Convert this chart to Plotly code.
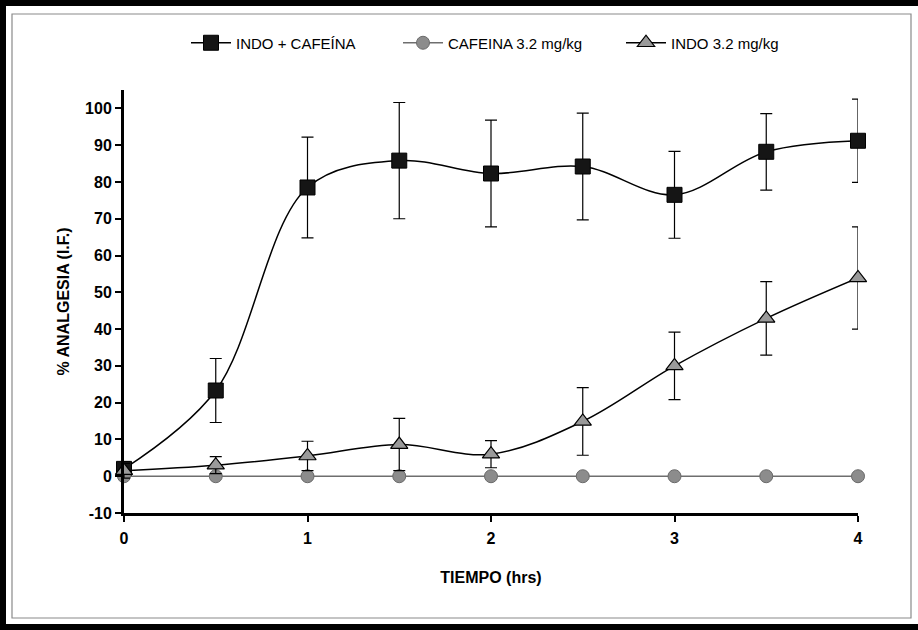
import plotly.graph_objects as go

# Time points (hours) and series values (% analgesia, mean ± error)
tiempo = [0, 0.5, 1, 1.5, 2, 2.5, 3, 3.5, 4]
indo_cafeina = [2.0, 23.3, 78.5, 85.8, 82.3, 84.2, 76.5, 88.2, 91.2]
indo_cafeina_err = [2.0, 8.7, 13.7, 15.8, 14.5, 14.5, 11.8, 10.4, 11.3]
cafeina = [0, 0, 0, 0, 0, 0, 0, 0, 0]
indo = [1.5, 3.0, 5.5, 8.6, 6.0, 14.9, 30.0, 42.9, 53.9]
indo_err = [2.0, 2.3, 4.0, 7.1, 3.7, 9.2, 9.2, 10.0, 13.9]

x_ticks = [0, 1, 2, 3, 4]
y_ticks = [-10, 0, 10, 20, 30, 40, 50, 60, 70, 80, 90, 100]

W, H = 918, 630
ML, MR, MT, MB = 124, 60, 90, 117
FONT = "Arial, Liberation Sans, sans-serif"


def px_x(px):
    return (px - ML) / (W - ML - MR)


def px_y(py):
    return (H - MB - py) / (H - MT - MB)


fig = go.Figure()

fig.add_trace(go.Scatter(
    x=tiempo, y=indo_cafeina, name="INDO + CAFEÍNA", legend="legend",
    mode="lines+markers", cliponaxis=False,
    line=dict(color="black", width=1.5, shape="spline", smoothing=1),
    marker=dict(symbol="square", size=15, color="#151515",
                line=dict(color="black", width=1)),
    error_y=dict(type="data", array=indo_cafeina_err, visible=True,
                 color="black", thickness=1.2, width=6),
))

fig.add_trace(go.Scatter(
    x=tiempo, y=cafeina, name="CAFEINA 3.2 mg/kg", legend="legend2",
    mode="lines+markers", cliponaxis=False,
    line=dict(color="#6e6e6e", width=1.5),
    marker=dict(symbol="circle", size=13, color="#8c8c8c",
                line=dict(color="#6a6a6a", width=1)),
))

fig.add_trace(go.Scatter(
    x=tiempo, y=indo, name="INDO 3.2 mg/kg", legend="legend3",
    mode="lines+markers", cliponaxis=False,
    line=dict(color="black", width=1.5, shape="spline", smoothing=1),
    marker=dict(symbol="triangle-up", size=15, color="#9a9a9a",
                line=dict(color="black", width=1.2)),
    error_y=dict(type="data", array=indo_err, visible=True,
                 color="black", thickness=1.2, width=6),
))

# Page frame: heavy border on top/left/bottom, thin inner border
frame = []
for x0, y0, x1, y1 in [(0, 0, W, 6), (0, 0, 6, H), (0, H - 6, W, H)]:
    frame.append(dict(type="rect", xref="paper", yref="paper",
                      x0=px_x(x0), x1=px_x(x1), y0=px_y(y0), y1=px_y(y1),
                      fillcolor="black", line=dict(width=0), layer="above"))
frame.append(dict(type="rect", xref="paper", yref="paper",
                  x0=px_x(12), x1=px_x(911), y0=px_y(14), y1=px_y(618),
                  fillcolor="rgba(0,0,0,0)",
                  line=dict(color="#8a8a8a", width=1.2), layer="below"))


def legend_at(px):
    return dict(orientation="h", x=px_x(px), xanchor="left",
                y=px_y(43), yanchor="middle",
                font=dict(size=15, family=FONT, color="black"),
                bgcolor="rgba(0,0,0,0)", itemwidth=40)


fig.update_layout(
    width=W, height=H,
    margin=dict(l=ML, r=MR, t=MT, b=MB, autoexpand=False),
    paper_bgcolor="white", plot_bgcolor="white",
    font=dict(family=FONT, color="black"),
    showlegend=True,
    legend=legend_at(186),
    legend2=legend_at(398),
    legend3=legend_at(621),
    shapes=frame,
    xaxis=dict(
        range=[0, 4], tickvals=x_ticks, ticktext=[str(v) for v in x_ticks],
        showgrid=False, zeroline=False,
        showline=True, linecolor="black", linewidth=3,
        ticks="outside", ticklen=6, tickwidth=2, tickcolor="black",
        ticklabelstandoff=3,
        tickfont=dict(size=16, family=FONT, color="black", weight="bold"),
        title=dict(text="TIEMPO (hrs)", standoff=26,
                   font=dict(size=16, family=FONT, color="black", weight="bold")),
    ),
    yaxis=dict(
        range=[-10, 105], tickvals=y_ticks, ticktext=[str(v) for v in y_ticks],
        showgrid=False, zeroline=False,
        showline=True, linecolor="black", linewidth=3,
        ticks="outside", ticklen=6, tickwidth=2, tickcolor="black",
        tickfont=dict(size=16, family=FONT, color="black", weight="bold"),
        title=dict(text="% ANALGESIA (I.F.)", standoff=12,
                   font=dict(size=16, family=FONT, color="black", weight="bold")),
    ),
)

fig.write_html("out.html")
